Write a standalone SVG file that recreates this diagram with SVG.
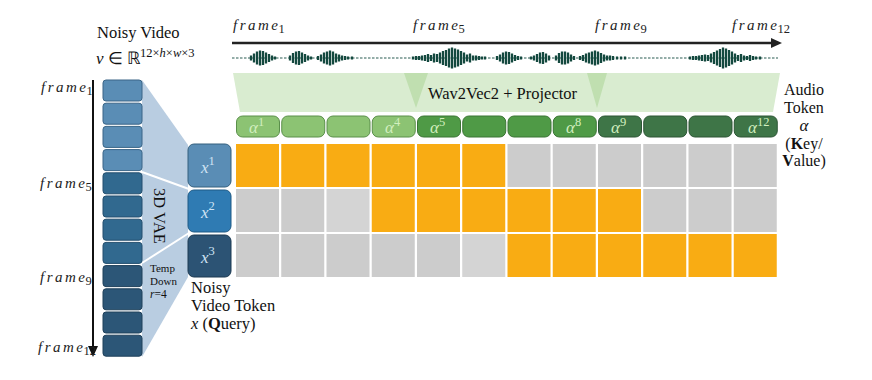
<svg xmlns="http://www.w3.org/2000/svg" width="872" height="380" viewBox="0 0 872 380">
<style>
.t{font-family:"Liberation Serif","Times New Roman",serif;fill:#111}
.fr{font-family:"Liberation Serif",serif;font-style:italic;font-size:15px;letter-spacing:2.5px;fill:#222}
.e{letter-spacing:0}
.sub{font-style:normal;font-size:12.5px;letter-spacing:0}
.blk1{fill:#5a8db5;stroke:#3a6587;stroke-width:1}
.blk2{fill:#31698f;stroke:#244f6e;stroke-width:1}
.blk3{fill:#2c5677;stroke:#1f405a;stroke-width:1}
.au1{fill:#8cc373;stroke:#5a8f4a;stroke-width:1}
.au2{fill:#4f9a46;stroke:#3b7434;stroke-width:1}
.au3{fill:#3e7547;stroke:#2c5534;stroke-width:1}
.al{font-family:"Liberation Serif",serif;font-style:italic;font-size:17px;fill:#d2efbf}
.xl{font-family:"Liberation Serif",serif;font-style:italic;font-size:17px;fill:#d0e4f4}
.sp{font-style:normal;font-size:12.5px}
.o{fill:#f9ac13}
.g{fill:#cccccc}
.g2{fill:#d4d4d4}
</style>

<!-- left: noisy video title -->
<g id="noisy-video-title">
<text class="t" x="97" y="38" font-size="16.5">Noisy Video</text>
<text class="t" x="96" y="64" font-size="17"><tspan font-style="italic">ν</tspan> ∈ ℝ<tspan font-size="12.5" dy="-7">12×<tspan font-style="italic">h</tspan>×<tspan font-style="italic">w</tspan>×3</tspan></text>
</g>

<!-- vertical time arrow and labels -->
<g id="video-timeline">
<line x1="93" y1="80" x2="93" y2="348" stroke="#111" stroke-width="2"/>
<polygon points="88,346 98,346 93,357" fill="#111"/>
<text class="fr" x="41" y="92">fram<tspan class="e">e</tspan><tspan class="sub" dx="0.5" dy="3">1</tspan></text>
<text class="fr" x="40" y="188">fram<tspan class="e">e</tspan><tspan class="sub" dx="0.5" dy="3">5</tspan></text>
<text class="fr" x="40" y="282">fram<tspan class="e">e</tspan><tspan class="sub" dx="0.5" dy="3">9</tspan></text>
<text class="fr" x="38" y="352">fram<tspan class="e">e</tspan><tspan class="sub" dx="0.5" dy="3">12</tspan></text>
</g>

<!-- 3D VAE funnel -->
<g id="vae-funnel">
<polygon points="142,80 188,145 188,277 142,357" fill="#b9cde1"/>
<line x1="142" y1="172" x2="189" y2="189" stroke="#ffffff" stroke-width="2"/>
<line x1="142" y1="263" x2="189" y2="233" stroke="#ffffff" stroke-width="2"/>
<text class="t" font-size="16.5" fill="#1b2f45" text-anchor="middle" transform="translate(154,216) rotate(90)">3D VAE</text>
<text class="t" font-size="11" fill="#1b2f45" x="150" y="272">Temp</text>
<text class="t" font-size="11" fill="#1b2f45" x="150" y="285">Down</text>
<text class="t" font-size="11.5" fill="#1b2f45" x="150" y="298"><tspan font-style="italic">r</tspan>=4</text>
</g>

<!-- video frame blocks -->
<g id="video-frames">
<rect class="blk1" x="103" y="80" width="39" height="21" rx="3"/>
<rect class="blk1" x="103" y="103.2" width="39" height="21" rx="3"/>
<rect class="blk1" x="103" y="126.4" width="39" height="21" rx="3"/>
<rect class="blk1" x="103" y="149.6" width="39" height="21" rx="3"/>
<rect class="blk2" x="103" y="172.8" width="39" height="21" rx="3"/>
<rect class="blk2" x="103" y="196" width="39" height="21" rx="3"/>
<rect class="blk2" x="103" y="219.2" width="39" height="21" rx="3"/>
<rect class="blk2" x="103" y="242.4" width="39" height="21" rx="3"/>
<rect class="blk3" x="103" y="265.6" width="39" height="21" rx="3"/>
<rect class="blk3" x="103" y="288.8" width="39" height="21" rx="3"/>
<rect class="blk3" x="103" y="312" width="39" height="21" rx="3"/>
<rect class="blk3" x="103" y="335.2" width="39" height="21" rx="3"/>
</g>

<!-- video tokens -->
<g id="video-token-x1">
<rect x="188" y="144" width="43" height="43" rx="6" fill="#5a8db5" stroke="#34607f" stroke-width="1"/>
<text class="xl" x="201" y="173">x<tspan class="sp" dy="-8">1</tspan></text>
</g>
<g id="video-token-x2">
<rect x="188" y="190" width="43" height="42" rx="6" fill="#2f7bb3" stroke="#1f5a85" stroke-width="1"/>
<text class="xl" x="201" y="218">x<tspan class="sp" dy="-8">2</tspan></text>
</g>
<g id="video-token-x3">
<rect x="188" y="235" width="43" height="42" rx="6" fill="#2c5374" stroke="#1d3a52" stroke-width="1"/>
<text class="xl" x="201" y="263">x<tspan class="sp" dy="-8">3</tspan></text>
</g>
<g id="video-token-label">
<text class="t" font-size="16.5" x="191" y="293">Noisy</text>
<text class="t" font-size="16.5" x="191" y="311">Video Token</text>
<text class="t" font-size="16.5" x="191" y="329"><tspan font-style="italic">x</tspan> (<tspan font-weight="bold">Q</tspan>uery)</text>
</g>

<!-- top audio timeline -->
<g id="audio-timeline">
<line x1="232" y1="43" x2="772" y2="43" stroke="#222" stroke-width="2.5"/>
<polygon points="771,38 782,43 771,48" fill="#222"/>
<text class="fr" x="233" y="30">fram<tspan class="e">e</tspan><tspan class="sub" dx="0.5" dy="3">1</tspan></text>
<text class="fr" x="413" y="30">fram<tspan class="e">e</tspan><tspan class="sub" dx="0.5" dy="3">5</tspan></text>
<text class="fr" x="595" y="30">fram<tspan class="e">e</tspan><tspan class="sub" dx="0.5" dy="3">9</tspan></text>
<text class="fr" x="732" y="30">fram<tspan class="e">e</tspan><tspan class="sub" dx="0.5" dy="3">12</tspan></text>
</g>

<!-- waveform -->
<g id="waveform">
<line x1="232" y1="58" x2="778" y2="58" stroke="#2a5c52" stroke-width="1.2" stroke-dasharray="2.5 1.5"/>
<path stroke="#14493f" stroke-width="2.3" fill="none" d="
M251 55.5V60.5M254 53.5V62.5M257 51.5V64.5M260 50.5V65.5M263 51V65M266 52.5V63.5M269 54V62M272 55.5V60.5M275 56.5V59.5
M290 55.5V60.5M293 53V63M296 51.5V64.5M299 51V65M302 52.5V63.5M305 54V62M308 55.5V60.5M311 56.5V59.5
M318 56V60M321 54.5V61.5M324 52.5V63.5M327 51.5V64.5M330 50.5V65.5M333 51.5V64.5M336 53.5V62.5M339 54.5V61.5M342 55.5V60.5M345 56V60M348 56.5V59.5M352 56.5V59.5
M413 56.5V59.5M416 56V60M419 56V60M422 55.5V60.5M425 55V61M428 54V62M431 55V61M434 53.5V62.5M437 54V62M440 52.5V63.5M443 51V65M446 50V66M449 48.5V67.5M452 47.5V68.5M455 48.5V67.5M458 49.5V66.5M461 51V65M464 52.5V63.5M467 54.5V61.5M470 53.5V62.5M473 55.5V60.5M476 55.5V60.5M479 56V60M482 56.5V59.5M485 56.5V59.5
M497 56V60M500 54.5V61.5M503 52.5V63.5M506 51.5V64.5M509 52V64M512 53.5V62.5M515 55V61M518 56V60M521 56.5V59.5
M531 56.5V59.5M534 55.5V60.5M537 54V62M540 52.5V63.5M543 52V64M546 53.5V62.5M549 55.5V60.5
M556 55.5V60.5M559 53V63M562 51.5V64.5M565 51.5V64.5M568 52.5V63.5M571 54.5V61.5M574 56V60
M580 56V60M583 55V61M586 53.5V62.5M589 52.5V63.5M592 51.5V64.5M595 50.5V65.5M598 51.5V64.5M601 53V63M604 54.5V61.5M607 55.5V60.5M610 55.5V60.5M613 56V60M617 56.5V59.5M621 56.5V59.5M625 56.5V59.5
M690 56.5V59.5M693 56V60M696 56V60M699 55.5V60.5M702 55V61M705 54.5V61.5M708 55V61M711 53.5V62.5M714 52V64M717 50.5V65.5M720 49V67M723 47.5V68.5M726 48.5V67.5M729 50V66M732 51.5V64.5M735 53.5V62.5M738 55V61M741 54V62M744 55.5V60.5M747 56V60M750 55V61M753 56V60M756 56.5V59.5M760 56.5V59.5"/>
</g>

<!-- projector -->
<g id="projector">
<polygon points="233,73 780,73 773,112 240,112" fill="#d9ecd0"/>
<polygon points="404,73 428,73 416,108" fill="#c0dfb0"/>
<polygon points="587,73 607,73 597,108" fill="#c0dfb0"/>
<text class="t" font-size="16.5" x="428" y="99">Wav2Vec2 + Projector</text>
</g>

<!-- audio tokens -->
<g id="audio-tokens">
<rect class="au1" x="236.5" y="116" width="43" height="21" rx="6"/>
<rect class="au1" x="281.75" y="116" width="43" height="21" rx="6"/>
<rect class="au1" x="327" y="116" width="43" height="21" rx="6"/>
<rect class="au1" x="372.25" y="116" width="43" height="21" rx="6" fill="#94c77c"/>
<rect class="au2" x="417.5" y="116" width="43" height="21" rx="6" fill="#4b9043"/>
<rect class="au2" x="462.75" y="116" width="43" height="21" rx="6"/>
<rect class="au2" x="508" y="116" width="43" height="21" rx="6"/>
<rect class="au2" x="553.25" y="116" width="43" height="21" rx="6" fill="#58a14e"/>
<rect class="au3" x="598.5" y="116" width="43" height="21" rx="6"/>
<rect class="au3" x="643.75" y="116" width="43" height="21" rx="6"/>
<rect class="au3" x="689" y="116" width="43" height="21" rx="6"/>
<rect class="au3" x="734.25" y="116" width="43" height="21" rx="6" fill="#43804a"/>
<text class="al" x="249" y="133">α<tspan class="sp" dy="-7">1</tspan></text>
<text class="al" x="385" y="133">α<tspan class="sp" dy="-7">4</tspan></text>
<text class="al" x="430" y="133">α<tspan class="sp" dy="-7">5</tspan></text>
<text class="al" x="566" y="133">α<tspan class="sp" dy="-7">8</tspan></text>
<text class="al" x="611" y="133">α<tspan class="sp" dy="-7">9</tspan></text>
<text class="al" x="748" y="133">α<tspan class="sp" dy="-7">12</tspan></text>
</g>

<!-- audio token label -->
<g id="audio-token-label">
<text class="t" font-size="16" x="804" y="95" text-anchor="middle">Audio</text>
<text class="t" font-size="16" x="804" y="113" text-anchor="middle">Token</text>
<text class="t" font-size="17" x="804" y="131" text-anchor="middle" font-style="italic">α</text>
<text class="t" font-size="16" x="804" y="149" text-anchor="middle">(<tspan font-weight="bold">K</tspan>ey/</text>
<text class="t" font-size="16" x="804" y="166" text-anchor="middle"><tspan font-weight="bold">V</tspan>alue)</text>
</g>

<!-- attention grid -->
<g id="attention-grid">
<rect class="o" x="236" y="144" width="43" height="43"/>
<rect class="o" x="281.25" y="144" width="43" height="43"/>
<rect class="o" x="326.5" y="144" width="43" height="43"/>
<rect class="o" x="371.75" y="144" width="43" height="43"/>
<rect class="o" x="417" y="144" width="43" height="43"/>
<rect class="o" x="462.25" y="144" width="43" height="43"/>
<rect class="g" x="507.5" y="144" width="43" height="43"/>
<rect class="g" x="552.75" y="144" width="43" height="43"/>
<rect class="g" x="598" y="144" width="43" height="43"/>
<rect class="g" x="643.25" y="144" width="43" height="43"/>
<rect class="g" x="688.5" y="144" width="43" height="43"/>
<rect class="g" x="733.75" y="144" width="43" height="43"/>

<rect class="g" x="236" y="189" width="43" height="43"/>
<rect class="g" x="281.25" y="189" width="43" height="43"/>
<rect class="g2" x="326.5" y="189" width="43" height="43"/>
<rect class="o" x="371.75" y="189" width="43" height="43"/>
<rect class="o" x="417" y="189" width="43" height="43"/>
<rect class="o" x="462.25" y="189" width="43" height="43"/>
<rect class="o" x="507.5" y="189" width="43" height="43"/>
<rect class="o" x="552.75" y="189" width="43" height="43"/>
<rect class="o" x="598" y="189" width="43" height="43"/>
<rect class="g" x="643.25" y="189" width="43" height="43"/>
<rect class="g" x="688.5" y="189" width="43" height="43"/>
<rect class="g" x="733.75" y="189" width="43" height="43"/>

<rect class="g" x="236" y="234" width="43" height="43"/>
<rect class="g" x="281.25" y="234" width="43" height="43"/>
<rect class="g" x="326.5" y="234" width="43" height="43"/>
<rect class="g" x="371.75" y="234" width="43" height="43"/>
<rect class="g" x="417" y="234" width="43" height="43"/>
<rect class="g2" x="462.25" y="234" width="43" height="43"/>
<rect class="o" x="507.5" y="234" width="43" height="43"/>
<rect class="o" x="552.75" y="234" width="43" height="43"/>
<rect class="o" x="598" y="234" width="43" height="43"/>
<rect class="o" x="643.25" y="234" width="43" height="43"/>
<rect class="o" x="688.5" y="234" width="43" height="43"/>
<rect class="o" x="733.75" y="234" width="43" height="43"/>
</g>
</svg>
